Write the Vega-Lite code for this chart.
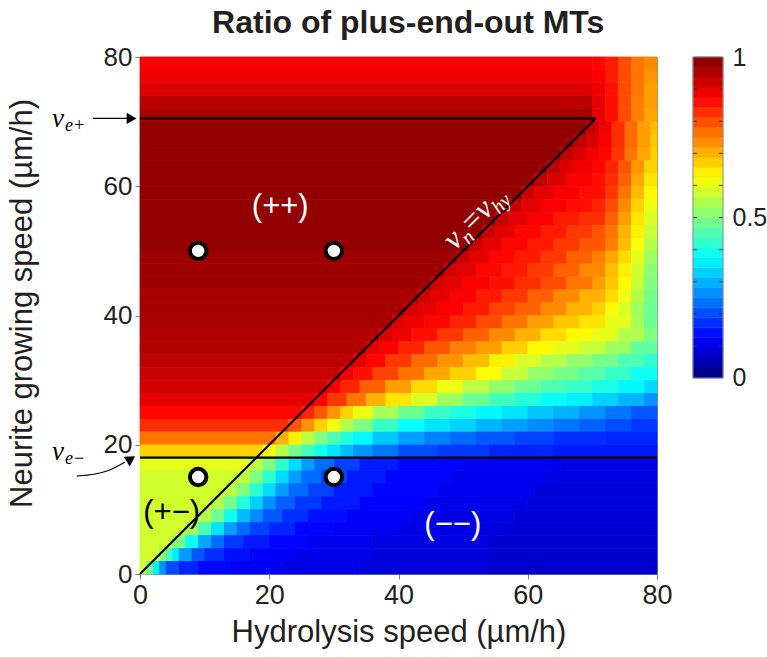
{
"$schema":"https://vega.github.io/schema/vega-lite/v6.json",
"width":517,"height":517,
"autosize":{"type":"none"},
"padding":{"left":140,"top":57,"right":110,"bottom":83},
"background":"white",
"config":{"view":{"stroke":"#8c8c8c","strokeWidth":1},"font":"Liberation Sans"},
"datasets":{
"grid":[
{"x":0,"x2":70,"y":78,"y2":80,"v":0.88},{"x":70,"x2":72,"y":78,"y2":80,"v":0.87},{"x":72,"x2":74,"y":78,"y2":80,"v":0.85},{"x":74,"x2":76,"y":78,"y2":80,"v":0.8},{"x":76,"x2":78,"y":78,"y2":80,"v":0.76},{"x":78,"x2":80,"y":78,"y2":80,"v":0.74},
{"x":0,"x2":70,"y":76,"y2":78,"v":0.89},{"x":70,"x2":72,"y":76,"y2":78,"v":0.88},{"x":72,"x2":74,"y":76,"y2":78,"v":0.85},{"x":74,"x2":76,"y":76,"y2":78,"v":0.8},{"x":76,"x2":78,"y":76,"y2":78,"v":0.76},{"x":78,"x2":80,"y":76,"y2":78,"v":0.73},
{"x":0,"x2":70,"y":74,"y2":76,"v":0.91},{"x":70,"x2":72,"y":74,"y2":76,"v":0.89},{"x":72,"x2":74,"y":74,"y2":76,"v":0.86},{"x":74,"x2":76,"y":74,"y2":76,"v":0.8},{"x":76,"x2":78,"y":74,"y2":76,"v":0.76},{"x":78,"x2":80,"y":74,"y2":76,"v":0.72},
{"x":0,"x2":70,"y":72,"y2":74,"v":0.94},{"x":70,"x2":72,"y":72,"y2":74,"v":0.9},{"x":72,"x2":74,"y":72,"y2":74,"v":0.86},{"x":74,"x2":76,"y":72,"y2":74,"v":0.8},{"x":76,"x2":78,"y":72,"y2":74,"v":0.75},{"x":78,"x2":80,"y":72,"y2":74,"v":0.72},
{"x":0,"x2":70,"y":70,"y2":72,"v":0.96},{"x":70,"x2":72,"y":70,"y2":72,"v":0.9},{"x":72,"x2":74,"y":70,"y2":72,"v":0.86},{"x":74,"x2":76,"y":70,"y2":72,"v":0.8},{"x":76,"x2":78,"y":70,"y2":72,"v":0.75},{"x":78,"x2":80,"y":70,"y2":72,"v":0.71},
{"x":0,"x2":69,"y":68,"y2":70,"v":0.98},{"x":69,"x2":71,"y":68,"y2":70,"v":0.93},{"x":71,"x2":73,"y":68,"y2":70,"v":0.89},{"x":73,"x2":75,"y":68,"y2":70,"v":0.83},{"x":75,"x2":77,"y":68,"y2":70,"v":0.77},{"x":77,"x2":79,"y":68,"y2":70,"v":0.72},{"x":79,"x2":80,"y":68,"y2":70,"v":0.69},
{"x":0,"x2":67,"y":66,"y2":68,"v":0.98},{"x":67,"x2":69,"y":66,"y2":68,"v":0.94},{"x":69,"x2":71,"y":66,"y2":68,"v":0.91},{"x":71,"x2":73,"y":66,"y2":68,"v":0.88},{"x":73,"x2":75,"y":66,"y2":68,"v":0.83},{"x":75,"x2":77,"y":66,"y2":68,"v":0.77},{"x":77,"x2":79,"y":66,"y2":68,"v":0.72},{"x":79,"x2":80,"y":66,"y2":68,"v":0.68},
{"x":0,"x2":65,"y":64,"y2":66,"v":0.98},{"x":65,"x2":67,"y":64,"y2":66,"v":0.94},{"x":67,"x2":69,"y":64,"y2":66,"v":0.91},{"x":69,"x2":71,"y":64,"y2":66,"v":0.89},{"x":71,"x2":73,"y":64,"y2":66,"v":0.87},{"x":73,"x2":75,"y":64,"y2":66,"v":0.82},{"x":75,"x2":77,"y":64,"y2":66,"v":0.76},{"x":77,"x2":79,"y":64,"y2":66,"v":0.71},{"x":79,"x2":80,"y":64,"y2":66,"v":0.67},
{"x":0,"x2":63,"y":62,"y2":64,"v":0.98},{"x":63,"x2":65,"y":62,"y2":64,"v":0.94},{"x":65,"x2":67,"y":62,"y2":64,"v":0.91},{"x":67,"x2":70,"y":62,"y2":64,"v":0.89},{"x":70,"x2":72,"y":62,"y2":64,"v":0.87},{"x":72,"x2":74,"y":62,"y2":64,"v":0.84},{"x":74,"x2":76,"y":62,"y2":64,"v":0.79},{"x":76,"x2":78,"y":62,"y2":64,"v":0.73},{"x":78,"x2":80,"y":62,"y2":64,"v":0.67},
{"x":0,"x2":61,"y":60,"y2":62,"v":0.98},{"x":61,"x2":63,"y":60,"y2":62,"v":0.94},{"x":63,"x2":66,"y":60,"y2":62,"v":0.91},{"x":66,"x2":70,"y":60,"y2":62,"v":0.88},{"x":70,"x2":72,"y":60,"y2":62,"v":0.86},{"x":72,"x2":74,"y":60,"y2":62,"v":0.83},{"x":74,"x2":76,"y":60,"y2":62,"v":0.78},{"x":76,"x2":78,"y":60,"y2":62,"v":0.71},{"x":78,"x2":80,"y":60,"y2":62,"v":0.65},
{"x":0,"x2":59,"y":58,"y2":60,"v":0.98},{"x":59,"x2":61,"y":58,"y2":60,"v":0.93},{"x":61,"x2":64,"y":58,"y2":60,"v":0.9},{"x":64,"x2":68,"y":58,"y2":60,"v":0.88},{"x":68,"x2":72,"y":58,"y2":60,"v":0.86},{"x":72,"x2":74,"y":58,"y2":60,"v":0.82},{"x":74,"x2":76,"y":58,"y2":60,"v":0.76},{"x":76,"x2":78,"y":58,"y2":60,"v":0.69},{"x":78,"x2":80,"y":58,"y2":60,"v":0.63},
{"x":0,"x2":57,"y":56,"y2":58,"v":0.98},{"x":57,"x2":59,"y":56,"y2":58,"v":0.93},{"x":59,"x2":62,"y":56,"y2":58,"v":0.9},{"x":62,"x2":66,"y":56,"y2":58,"v":0.88},{"x":66,"x2":70,"y":56,"y2":58,"v":0.86},{"x":70,"x2":72,"y":56,"y2":58,"v":0.84},{"x":72,"x2":74,"y":56,"y2":58,"v":0.8},{"x":74,"x2":76,"y":56,"y2":58,"v":0.74},{"x":76,"x2":78,"y":56,"y2":58,"v":0.67},{"x":78,"x2":80,"y":56,"y2":58,"v":0.61},
{"x":0,"x2":55,"y":54,"y2":56,"v":0.98},{"x":55,"x2":57,"y":54,"y2":56,"v":0.93},{"x":57,"x2":60,"y":54,"y2":56,"v":0.9},{"x":60,"x2":64,"y":54,"y2":56,"v":0.88},{"x":64,"x2":68,"y":54,"y2":56,"v":0.85},{"x":68,"x2":72,"y":54,"y2":56,"v":0.83},{"x":72,"x2":74,"y":54,"y2":56,"v":0.78},{"x":74,"x2":76,"y":54,"y2":56,"v":0.72},{"x":76,"x2":78,"y":54,"y2":56,"v":0.65},{"x":78,"x2":80,"y":54,"y2":56,"v":0.59},
{"x":0,"x2":53,"y":52,"y2":54,"v":0.98},{"x":53,"x2":55,"y":52,"y2":54,"v":0.93},{"x":55,"x2":58,"y":52,"y2":54,"v":0.9},{"x":58,"x2":62,"y":52,"y2":54,"v":0.87},{"x":62,"x2":66,"y":52,"y2":54,"v":0.85},{"x":66,"x2":70,"y":52,"y2":54,"v":0.82},{"x":70,"x2":72,"y":52,"y2":54,"v":0.79},{"x":72,"x2":74,"y":52,"y2":54,"v":0.76},{"x":74,"x2":76,"y":52,"y2":54,"v":0.7},{"x":76,"x2":78,"y":52,"y2":54,"v":0.64},{"x":78,"x2":80,"y":52,"y2":54,"v":0.57},
{"x":0,"x2":51,"y":50,"y2":52,"v":0.98},{"x":51,"x2":53,"y":50,"y2":52,"v":0.93},{"x":53,"x2":56,"y":50,"y2":52,"v":0.9},{"x":56,"x2":60,"y":50,"y2":52,"v":0.87},{"x":60,"x2":64,"y":50,"y2":52,"v":0.85},{"x":64,"x2":68,"y":50,"y2":52,"v":0.82},{"x":68,"x2":72,"y":50,"y2":52,"v":0.79},{"x":72,"x2":74,"y":50,"y2":52,"v":0.75},{"x":74,"x2":76,"y":50,"y2":52,"v":0.69},{"x":76,"x2":78,"y":50,"y2":52,"v":0.62},{"x":78,"x2":80,"y":50,"y2":52,"v":0.55},
{"x":0,"x2":49,"y":48,"y2":50,"v":0.97},{"x":49,"x2":51,"y":48,"y2":50,"v":0.93},{"x":51,"x2":54,"y":48,"y2":50,"v":0.9},{"x":54,"x2":58,"y":48,"y2":50,"v":0.87},{"x":58,"x2":62,"y":48,"y2":50,"v":0.85},{"x":62,"x2":66,"y":48,"y2":50,"v":0.82},{"x":66,"x2":70,"y":48,"y2":50,"v":0.78},{"x":70,"x2":72,"y":48,"y2":50,"v":0.75},{"x":72,"x2":74,"y":48,"y2":50,"v":0.71},{"x":74,"x2":76,"y":48,"y2":50,"v":0.66},{"x":76,"x2":78,"y":48,"y2":50,"v":0.6},{"x":78,"x2":80,"y":48,"y2":50,"v":0.53},
{"x":0,"x2":47,"y":46,"y2":48,"v":0.97},{"x":47,"x2":49,"y":46,"y2":48,"v":0.92},{"x":49,"x2":52,"y":46,"y2":48,"v":0.9},{"x":52,"x2":56,"y":46,"y2":48,"v":0.87},{"x":56,"x2":60,"y":46,"y2":48,"v":0.85},{"x":60,"x2":64,"y":46,"y2":48,"v":0.82},{"x":64,"x2":68,"y":46,"y2":48,"v":0.78},{"x":68,"x2":72,"y":46,"y2":48,"v":0.74},{"x":72,"x2":74,"y":46,"y2":48,"v":0.69},{"x":74,"x2":76,"y":46,"y2":48,"v":0.64},{"x":76,"x2":78,"y":46,"y2":48,"v":0.58},{"x":78,"x2":80,"y":46,"y2":48,"v":0.51},
{"x":0,"x2":45,"y":44,"y2":46,"v":0.97},{"x":45,"x2":47,"y":44,"y2":46,"v":0.92},{"x":47,"x2":50,"y":44,"y2":46,"v":0.9},{"x":50,"x2":54,"y":44,"y2":46,"v":0.88},{"x":54,"x2":58,"y":44,"y2":46,"v":0.86},{"x":58,"x2":62,"y":44,"y2":46,"v":0.83},{"x":62,"x2":66,"y":44,"y2":46,"v":0.8},{"x":66,"x2":70,"y":44,"y2":46,"v":0.76},{"x":70,"x2":72,"y":44,"y2":46,"v":0.72},{"x":72,"x2":74,"y":44,"y2":46,"v":0.68},{"x":74,"x2":76,"y":44,"y2":46,"v":0.63},{"x":76,"x2":78,"y":44,"y2":46,"v":0.57},{"x":78,"x2":80,"y":44,"y2":46,"v":0.5},
{"x":0,"x2":43,"y":42,"y2":44,"v":0.96},{"x":43,"x2":45,"y":42,"y2":44,"v":0.92},{"x":45,"x2":48,"y":42,"y2":44,"v":0.9},{"x":48,"x2":52,"y":42,"y2":44,"v":0.88},{"x":52,"x2":56,"y":42,"y2":44,"v":0.85},{"x":56,"x2":60,"y":42,"y2":44,"v":0.82},{"x":60,"x2":64,"y":42,"y2":44,"v":0.78},{"x":64,"x2":68,"y":42,"y2":44,"v":0.74},{"x":68,"x2":72,"y":42,"y2":44,"v":0.7},{"x":72,"x2":74,"y":42,"y2":44,"v":0.66},{"x":74,"x2":76,"y":42,"y2":44,"v":0.61},{"x":76,"x2":78,"y":42,"y2":44,"v":0.55},{"x":78,"x2":80,"y":42,"y2":44,"v":0.49},
{"x":0,"x2":41,"y":40,"y2":42,"v":0.96},{"x":41,"x2":43,"y":40,"y2":42,"v":0.92},{"x":43,"x2":46,"y":40,"y2":42,"v":0.9},{"x":46,"x2":50,"y":40,"y2":42,"v":0.88},{"x":50,"x2":54,"y":40,"y2":42,"v":0.85},{"x":54,"x2":58,"y":40,"y2":42,"v":0.81},{"x":58,"x2":62,"y":40,"y2":42,"v":0.78},{"x":62,"x2":66,"y":40,"y2":42,"v":0.74},{"x":66,"x2":70,"y":40,"y2":42,"v":0.7},{"x":70,"x2":72,"y":40,"y2":42,"v":0.67},{"x":72,"x2":74,"y":40,"y2":42,"v":0.63},{"x":74,"x2":76,"y":40,"y2":42,"v":0.59},{"x":76,"x2":78,"y":40,"y2":42,"v":0.53},{"x":78,"x2":80,"y":40,"y2":42,"v":0.48},
{"x":0,"x2":39,"y":38,"y2":40,"v":0.96},{"x":39,"x2":41,"y":38,"y2":40,"v":0.91},{"x":41,"x2":44,"y":38,"y2":40,"v":0.89},{"x":44,"x2":48,"y":38,"y2":40,"v":0.87},{"x":48,"x2":52,"y":38,"y2":40,"v":0.84},{"x":52,"x2":56,"y":38,"y2":40,"v":0.8},{"x":56,"x2":60,"y":38,"y2":40,"v":0.76},{"x":60,"x2":64,"y":38,"y2":40,"v":0.72},{"x":64,"x2":68,"y":38,"y2":40,"v":0.68},{"x":68,"x2":72,"y":38,"y2":40,"v":0.65},{"x":72,"x2":76,"y":38,"y2":40,"v":0.6},{"x":76,"x2":78,"y":38,"y2":40,"v":0.54},{"x":78,"x2":80,"y":38,"y2":40,"v":0.48},
{"x":0,"x2":37,"y":36,"y2":38,"v":0.95},{"x":37,"x2":39,"y":36,"y2":38,"v":0.91},{"x":39,"x2":42,"y":36,"y2":38,"v":0.89},{"x":42,"x2":46,"y":36,"y2":38,"v":0.86},{"x":46,"x2":50,"y":36,"y2":38,"v":0.82},{"x":50,"x2":54,"y":36,"y2":38,"v":0.78},{"x":54,"x2":58,"y":36,"y2":38,"v":0.74},{"x":58,"x2":62,"y":36,"y2":38,"v":0.7},{"x":62,"x2":66,"y":36,"y2":38,"v":0.66},{"x":66,"x2":70,"y":36,"y2":38,"v":0.63},{"x":70,"x2":74,"y":36,"y2":38,"v":0.6},{"x":74,"x2":78,"y":36,"y2":38,"v":0.55},{"x":78,"x2":80,"y":36,"y2":38,"v":0.5},
{"x":0,"x2":35,"y":34,"y2":36,"v":0.95},{"x":35,"x2":37,"y":34,"y2":36,"v":0.9},{"x":37,"x2":40,"y":34,"y2":36,"v":0.88},{"x":40,"x2":44,"y":34,"y2":36,"v":0.84},{"x":44,"x2":48,"y":34,"y2":36,"v":0.79},{"x":48,"x2":52,"y":34,"y2":36,"v":0.75},{"x":52,"x2":56,"y":34,"y2":36,"v":0.72},{"x":56,"x2":60,"y":34,"y2":36,"v":0.67},{"x":60,"x2":64,"y":34,"y2":36,"v":0.63},{"x":64,"x2":68,"y":34,"y2":36,"v":0.6},{"x":68,"x2":72,"y":34,"y2":36,"v":0.57},{"x":72,"x2":76,"y":34,"y2":36,"v":0.53},{"x":76,"x2":80,"y":34,"y2":36,"v":0.47},
{"x":0,"x2":33,"y":32,"y2":34,"v":0.94},{"x":33,"x2":35,"y":32,"y2":34,"v":0.9},{"x":35,"x2":38,"y":32,"y2":34,"v":0.87},{"x":38,"x2":42,"y":32,"y2":34,"v":0.82},{"x":42,"x2":46,"y":32,"y2":34,"v":0.77},{"x":46,"x2":50,"y":32,"y2":34,"v":0.73},{"x":50,"x2":54,"y":32,"y2":34,"v":0.69},{"x":54,"x2":58,"y":32,"y2":34,"v":0.64},{"x":58,"x2":62,"y":32,"y2":34,"v":0.59},{"x":62,"x2":66,"y":32,"y2":34,"v":0.55},{"x":66,"x2":70,"y":32,"y2":34,"v":0.52},{"x":70,"x2":74,"y":32,"y2":34,"v":0.49},{"x":74,"x2":78,"y":32,"y2":34,"v":0.45},{"x":78,"x2":80,"y":32,"y2":34,"v":0.42},
{"x":0,"x2":31,"y":30,"y2":32,"v":0.93},{"x":31,"x2":33,"y":30,"y2":32,"v":0.89},{"x":33,"x2":36,"y":30,"y2":32,"v":0.86},{"x":36,"x2":40,"y":30,"y2":32,"v":0.81},{"x":40,"x2":44,"y":30,"y2":32,"v":0.76},{"x":44,"x2":48,"y":30,"y2":32,"v":0.71},{"x":48,"x2":52,"y":30,"y2":32,"v":0.67},{"x":52,"x2":56,"y":30,"y2":32,"v":0.62},{"x":56,"x2":60,"y":30,"y2":32,"v":0.57},{"x":60,"x2":64,"y":30,"y2":32,"v":0.52},{"x":64,"x2":68,"y":30,"y2":32,"v":0.49},{"x":68,"x2":72,"y":30,"y2":32,"v":0.46},{"x":72,"x2":76,"y":30,"y2":32,"v":0.43},{"x":76,"x2":80,"y":30,"y2":32,"v":0.39},
{"x":0,"x2":29,"y":28,"y2":30,"v":0.92},{"x":29,"x2":31,"y":28,"y2":30,"v":0.88},{"x":31,"x2":34,"y":28,"y2":30,"v":0.84},{"x":34,"x2":38,"y":28,"y2":30,"v":0.78},{"x":38,"x2":42,"y":28,"y2":30,"v":0.72},{"x":42,"x2":46,"y":28,"y2":30,"v":0.66},{"x":46,"x2":50,"y":28,"y2":30,"v":0.61},{"x":50,"x2":54,"y":28,"y2":30,"v":0.56},{"x":54,"x2":58,"y":28,"y2":30,"v":0.52},{"x":58,"x2":62,"y":28,"y2":30,"v":0.48},{"x":62,"x2":66,"y":28,"y2":30,"v":0.45},{"x":66,"x2":70,"y":28,"y2":30,"v":0.43},{"x":70,"x2":74,"y":28,"y2":30,"v":0.4},{"x":74,"x2":78,"y":28,"y2":30,"v":0.37},{"x":78,"x2":80,"y":28,"y2":30,"v":0.34},
{"x":0,"x2":27,"y":26,"y2":28,"v":0.9},{"x":27,"x2":29,"y":26,"y2":28,"v":0.87},{"x":29,"x2":32,"y":26,"y2":28,"v":0.82},{"x":32,"x2":35,"y":26,"y2":28,"v":0.76},{"x":35,"x2":38,"y":26,"y2":28,"v":0.7},{"x":38,"x2":42,"y":26,"y2":28,"v":0.65},{"x":42,"x2":46,"y":26,"y2":28,"v":0.59},{"x":46,"x2":50,"y":26,"y2":28,"v":0.53},{"x":50,"x2":54,"y":26,"y2":28,"v":0.48},{"x":54,"x2":58,"y":26,"y2":28,"v":0.44},{"x":58,"x2":62,"y":26,"y2":28,"v":0.41},{"x":62,"x2":66,"y":26,"y2":28,"v":0.38},{"x":66,"x2":70,"y":26,"y2":28,"v":0.36},{"x":70,"x2":74,"y":26,"y2":28,"v":0.33},{"x":74,"x2":78,"y":26,"y2":28,"v":0.3},{"x":78,"x2":80,"y":26,"y2":28,"v":0.27},
{"x":0,"x2":25,"y":24,"y2":26,"v":0.87},{"x":25,"x2":27,"y":24,"y2":26,"v":0.84},{"x":27,"x2":29,"y":24,"y2":26,"v":0.79},{"x":29,"x2":31,"y":24,"y2":26,"v":0.73},{"x":31,"x2":33,"y":24,"y2":26,"v":0.67},{"x":33,"x2":36,"y":24,"y2":26,"v":0.61},{"x":36,"x2":40,"y":24,"y2":26,"v":0.54},{"x":40,"x2":44,"y":24,"y2":26,"v":0.48},{"x":44,"x2":48,"y":24,"y2":26,"v":0.43},{"x":48,"x2":52,"y":24,"y2":26,"v":0.4},{"x":52,"x2":56,"y":24,"y2":26,"v":0.37},{"x":56,"x2":60,"y":24,"y2":26,"v":0.35},{"x":60,"x2":64,"y":24,"y2":26,"v":0.32},{"x":64,"x2":68,"y":24,"y2":26,"v":0.3},{"x":68,"x2":72,"y":24,"y2":26,"v":0.27},{"x":72,"x2":76,"y":24,"y2":26,"v":0.24},{"x":76,"x2":80,"y":24,"y2":26,"v":0.21},
{"x":0,"x2":23,"y":22,"y2":24,"v":0.83},{"x":23,"x2":25,"y":22,"y2":24,"v":0.79},{"x":25,"x2":27,"y":22,"y2":24,"v":0.73},{"x":27,"x2":29,"y":22,"y2":24,"v":0.67},{"x":29,"x2":31,"y":22,"y2":24,"v":0.61},{"x":31,"x2":33,"y":22,"y2":24,"v":0.55},{"x":33,"x2":36,"y":22,"y2":24,"v":0.5},{"x":36,"x2":40,"y":22,"y2":24,"v":0.43},{"x":40,"x2":44,"y":22,"y2":24,"v":0.38},{"x":44,"x2":48,"y":22,"y2":24,"v":0.35},{"x":48,"x2":52,"y":22,"y2":24,"v":0.33},{"x":52,"x2":56,"y":22,"y2":24,"v":0.3},{"x":56,"x2":60,"y":22,"y2":24,"v":0.28},{"x":60,"x2":64,"y":22,"y2":24,"v":0.26},{"x":64,"x2":68,"y":22,"y2":24,"v":0.24},{"x":68,"x2":72,"y":22,"y2":24,"v":0.22},{"x":72,"x2":76,"y":22,"y2":24,"v":0.2},{"x":76,"x2":80,"y":22,"y2":24,"v":0.18},
{"x":0,"x2":21,"y":20,"y2":22,"v":0.76},{"x":21,"x2":23,"y":20,"y2":22,"v":0.7},{"x":23,"x2":25,"y":20,"y2":22,"v":0.64},{"x":25,"x2":27,"y":20,"y2":22,"v":0.56},{"x":27,"x2":29,"y":20,"y2":22,"v":0.5},{"x":29,"x2":31,"y":20,"y2":22,"v":0.45},{"x":31,"x2":33,"y":20,"y2":22,"v":0.41},{"x":33,"x2":36,"y":20,"y2":22,"v":0.37},{"x":36,"x2":40,"y":20,"y2":22,"v":0.32},{"x":40,"x2":44,"y":20,"y2":22,"v":0.28},{"x":44,"x2":48,"y":20,"y2":22,"v":0.25},{"x":48,"x2":52,"y":20,"y2":22,"v":0.23},{"x":52,"x2":58,"y":20,"y2":22,"v":0.21},{"x":58,"x2":64,"y":20,"y2":22,"v":0.19},{"x":64,"x2":72,"y":20,"y2":22,"v":0.17},{"x":72,"x2":80,"y":20,"y2":22,"v":0.16},
{"x":0,"x2":19,"y":18,"y2":20,"v":0.67},{"x":19,"x2":21,"y":18,"y2":20,"v":0.62},{"x":21,"x2":23,"y":18,"y2":20,"v":0.55},{"x":23,"x2":25,"y":18,"y2":20,"v":0.49},{"x":25,"x2":27,"y":18,"y2":20,"v":0.44},{"x":27,"x2":29,"y":18,"y2":20,"v":0.39},{"x":29,"x2":31,"y":18,"y2":20,"v":0.35},{"x":31,"x2":33,"y":18,"y2":20,"v":0.31},{"x":33,"x2":36,"y":18,"y2":20,"v":0.27},{"x":36,"x2":40,"y":18,"y2":20,"v":0.24},{"x":40,"x2":46,"y":18,"y2":20,"v":0.2},{"x":46,"x2":54,"y":18,"y2":20,"v":0.18},{"x":54,"x2":64,"y":18,"y2":20,"v":0.16},{"x":64,"x2":80,"y":18,"y2":20,"v":0.15},
{"x":0,"x2":17,"y":16,"y2":18,"v":0.6},{"x":17,"x2":19,"y":16,"y2":18,"v":0.56},{"x":19,"x2":21,"y":16,"y2":18,"v":0.5},{"x":21,"x2":23,"y":16,"y2":18,"v":0.42},{"x":23,"x2":25,"y":16,"y2":18,"v":0.34},{"x":25,"x2":27,"y":16,"y2":18,"v":0.28},{"x":27,"x2":30,"y":16,"y2":18,"v":0.23},{"x":30,"x2":34,"y":16,"y2":18,"v":0.19},{"x":34,"x2":40,"y":16,"y2":18,"v":0.15},{"x":40,"x2":50,"y":16,"y2":18,"v":0.13},{"x":50,"x2":65,"y":16,"y2":18,"v":0.11},{"x":65,"x2":80,"y":16,"y2":18,"v":0.095},
{"x":0,"x2":15,"y":14,"y2":16,"v":0.58},{"x":15,"x2":17,"y":14,"y2":16,"v":0.56},{"x":17,"x2":19,"y":14,"y2":16,"v":0.5},{"x":19,"x2":21,"y":14,"y2":16,"v":0.42},{"x":21,"x2":23,"y":14,"y2":16,"v":0.34},{"x":23,"x2":25,"y":14,"y2":16,"v":0.28},{"x":25,"x2":28,"y":14,"y2":16,"v":0.23},{"x":28,"x2":32,"y":14,"y2":16,"v":0.19},{"x":32,"x2":38,"y":14,"y2":16,"v":0.15},{"x":38,"x2":48,"y":14,"y2":16,"v":0.13},{"x":48,"x2":63,"y":14,"y2":16,"v":0.11},{"x":63,"x2":80,"y":14,"y2":16,"v":0.095},
{"x":0,"x2":13,"y":12,"y2":14,"v":0.58},{"x":13,"x2":15,"y":12,"y2":14,"v":0.56},{"x":15,"x2":17,"y":12,"y2":14,"v":0.5},{"x":17,"x2":19,"y":12,"y2":14,"v":0.42},{"x":19,"x2":21,"y":12,"y2":14,"v":0.34},{"x":21,"x2":23,"y":12,"y2":14,"v":0.28},{"x":23,"x2":26,"y":12,"y2":14,"v":0.23},{"x":26,"x2":30,"y":12,"y2":14,"v":0.19},{"x":30,"x2":36,"y":12,"y2":14,"v":0.15},{"x":36,"x2":46,"y":12,"y2":14,"v":0.13},{"x":46,"x2":61,"y":12,"y2":14,"v":0.11},{"x":61,"x2":80,"y":12,"y2":14,"v":0.09},
{"x":0,"x2":11,"y":10,"y2":12,"v":0.58},{"x":11,"x2":13,"y":10,"y2":12,"v":0.55},{"x":13,"x2":15,"y":10,"y2":12,"v":0.49},{"x":15,"x2":17,"y":10,"y2":12,"v":0.41},{"x":17,"x2":19,"y":10,"y2":12,"v":0.33},{"x":19,"x2":21,"y":10,"y2":12,"v":0.27},{"x":21,"x2":24,"y":10,"y2":12,"v":0.22},{"x":24,"x2":28,"y":10,"y2":12,"v":0.18},{"x":28,"x2":34,"y":10,"y2":12,"v":0.15},{"x":34,"x2":44,"y":10,"y2":12,"v":0.125},{"x":44,"x2":60,"y":10,"y2":12,"v":0.105},{"x":60,"x2":80,"y":10,"y2":12,"v":0.09},
{"x":0,"x2":9,"y":8,"y2":10,"v":0.58},{"x":9,"x2":11,"y":8,"y2":10,"v":0.55},{"x":11,"x2":13,"y":8,"y2":10,"v":0.48},{"x":13,"x2":15,"y":8,"y2":10,"v":0.39},{"x":15,"x2":17,"y":8,"y2":10,"v":0.31},{"x":17,"x2":19,"y":8,"y2":10,"v":0.26},{"x":19,"x2":22,"y":8,"y2":10,"v":0.21},{"x":22,"x2":26,"y":8,"y2":10,"v":0.17},{"x":26,"x2":32,"y":8,"y2":10,"v":0.14},{"x":32,"x2":42,"y":8,"y2":10,"v":0.12},{"x":42,"x2":58,"y":8,"y2":10,"v":0.1},{"x":58,"x2":80,"y":8,"y2":10,"v":0.085},
{"x":0,"x2":7,"y":6,"y2":8,"v":0.58},{"x":7,"x2":9,"y":6,"y2":8,"v":0.54},{"x":9,"x2":11,"y":6,"y2":8,"v":0.45},{"x":11,"x2":13,"y":6,"y2":8,"v":0.35},{"x":13,"x2":15,"y":6,"y2":8,"v":0.28},{"x":15,"x2":17,"y":6,"y2":8,"v":0.23},{"x":17,"x2":20,"y":6,"y2":8,"v":0.19},{"x":20,"x2":24,"y":6,"y2":8,"v":0.16},{"x":24,"x2":30,"y":6,"y2":8,"v":0.13},{"x":30,"x2":40,"y":6,"y2":8,"v":0.115},{"x":40,"x2":56,"y":6,"y2":8,"v":0.1},{"x":56,"x2":80,"y":6,"y2":8,"v":0.085},
{"x":0,"x2":5,"y":4,"y2":6,"v":0.58},{"x":5,"x2":7,"y":4,"y2":6,"v":0.5},{"x":7,"x2":9,"y":4,"y2":6,"v":0.38},{"x":9,"x2":11,"y":4,"y2":6,"v":0.29},{"x":11,"x2":13,"y":4,"y2":6,"v":0.23},{"x":13,"x2":16,"y":4,"y2":6,"v":0.18},{"x":16,"x2":20,"y":4,"y2":6,"v":0.15},{"x":20,"x2":26,"y":4,"y2":6,"v":0.13},{"x":26,"x2":36,"y":4,"y2":6,"v":0.11},{"x":36,"x2":54,"y":4,"y2":6,"v":0.095},{"x":54,"x2":80,"y":4,"y2":6,"v":0.08},
{"x":0,"x2":3,"y":2,"y2":4,"v":0.58},{"x":3,"x2":4,"y":2,"y2":4,"v":0.52},{"x":4,"x2":5,"y":2,"y2":4,"v":0.44},{"x":5,"x2":6,"y":2,"y2":4,"v":0.36},{"x":6,"x2":8,"y":2,"y2":4,"v":0.28},{"x":8,"x2":10,"y":2,"y2":4,"v":0.21},{"x":10,"x2":13,"y":2,"y2":4,"v":0.17},{"x":13,"x2":17,"y":2,"y2":4,"v":0.14},{"x":17,"x2":24,"y":2,"y2":4,"v":0.12},{"x":24,"x2":36,"y":2,"y2":4,"v":0.105},{"x":36,"x2":54,"y":2,"y2":4,"v":0.09},{"x":54,"x2":80,"y":2,"y2":4,"v":0.08},
{"x":0,"x2":1,"y":0,"y2":2,"v":0.58},{"x":1,"x2":2,"y":0,"y2":2,"v":0.48},{"x":2,"x2":3,"y":0,"y2":2,"v":0.36},{"x":3,"x2":4,"y":0,"y2":2,"v":0.27},{"x":4,"x2":6,"y":0,"y2":2,"v":0.2},{"x":6,"x2":9,"y":0,"y2":2,"v":0.16},{"x":9,"x2":14,"y":0,"y2":2,"v":0.13},{"x":14,"x2":22,"y":0,"y2":2,"v":0.115},{"x":22,"x2":34,"y":0,"y2":2,"v":0.1},{"x":34,"x2":54,"y":0,"y2":2,"v":0.09},{"x":54,"x2":80,"y":0,"y2":2,"v":0.075}
],
"colorbar":[
{"lo":0,"hi":0.03125,"c":0.015625},{"lo":0.03125,"hi":0.0625,"c":0.046875},{"lo":0.0625,"hi":0.09375,"c":0.078125},{"lo":0.09375,"hi":0.125,"c":0.109375},
{"lo":0.125,"hi":0.15625,"c":0.140625},{"lo":0.15625,"hi":0.1875,"c":0.171875},{"lo":0.1875,"hi":0.21875,"c":0.203125},{"lo":0.21875,"hi":0.25,"c":0.234375},
{"lo":0.25,"hi":0.28125,"c":0.265625},{"lo":0.28125,"hi":0.3125,"c":0.296875},{"lo":0.3125,"hi":0.34375,"c":0.328125},{"lo":0.34375,"hi":0.375,"c":0.359375},
{"lo":0.375,"hi":0.40625,"c":0.390625},{"lo":0.40625,"hi":0.4375,"c":0.421875},{"lo":0.4375,"hi":0.46875,"c":0.453125},{"lo":0.46875,"hi":0.5,"c":0.484375},
{"lo":0.5,"hi":0.53125,"c":0.515625},{"lo":0.53125,"hi":0.5625,"c":0.546875},{"lo":0.5625,"hi":0.59375,"c":0.578125},{"lo":0.59375,"hi":0.625,"c":0.609375},
{"lo":0.625,"hi":0.65625,"c":0.640625},{"lo":0.65625,"hi":0.6875,"c":0.671875},{"lo":0.6875,"hi":0.71875,"c":0.703125},{"lo":0.71875,"hi":0.75,"c":0.734375},
{"lo":0.75,"hi":0.78125,"c":0.765625},{"lo":0.78125,"hi":0.8125,"c":0.796875},{"lo":0.8125,"hi":0.84375,"c":0.828125},{"lo":0.84375,"hi":0.875,"c":0.859375},
{"lo":0.875,"hi":0.90625,"c":0.890625},{"lo":0.90625,"hi":0.9375,"c":0.921875},{"lo":0.9375,"hi":0.96875,"c":0.953125},{"lo":0.96875,"hi":1,"c":0.984375}
],
"barTicks":[{"v":0.1},{"v":0.2},{"v":0.3},{"v":0.4},{"v":0.5},{"v":0.6},{"v":0.7},{"v":0.8},{"v":0.9}],
"lines":[{"x":0,"y":70.5,"x2":70.5,"y2":70.5},{"x":0,"y":0,"x2":70.5,"y2":70.5},{"x":0,"y":18,"x2":80,"y2":18}],
"shaft":[{"x":-7.3,"y":70.5,"x2":-2,"y2":70.5}],
"curve":[{"x":-9.75,"y":15.16},{"x":-6.96,"y":15.47},{"x":-4.33,"y":16.25},{"x":-2.32,"y":17.33}],
"headPlus":[{"x":-1.3,"y":70.5}],
"headMinus":[{"x":-1.4,"y":17.8}],
"circles":[{"x":9,"y":50},{"x":30,"y":50},{"x":9,"y":15},{"x":30,"y":15}],
"title":[{"x":41.5,"y":83.7,"t":"Ratio of plus-end-out MTs"}],
"whiteLabels":[{"x":21.7,"y":56.8,"t":"(++)"},{"x":48.4,"y":7.6,"t":"(−−)"}],
"blackLabels":[{"x":4.9,"y":9.5,"t":"(+−)"}],
"formula":[{"x":48.7,"y":50.0}],
"ve":[{"x":-13.6,"y":69.1,"s":"e+"},{"x":-13.6,"y":17.6,"s":"e−"}]
},
"resolve":{"scale":{"x":"independent","y":"independent"}},
"layer":[
{"layer":[
{"data":{"name":"grid"},
 "mark":{"type":"rect","filled":false,"strokeWidth":0.8},
 "encoding":{
  "x":{"field":"x","type":"quantitative","scale":{"domain":[0,80],"nice":false,"zero":false}},
  "x2":{"field":"x2"},
  "y":{"field":"y","type":"quantitative","scale":{"domain":[0,80],"nice":false,"zero":false}},
  "y2":{"field":"y2"},
  "stroke":{"field":"v","type":"quantitative",
   "scale":{"domain":[0,0.125,0.375,0.625,0.875,1],"range":["#00007f","#0000ff","#00ffff","#ffff00","#ff0000","#7f0000"],"interpolate":"rgb"},
   "legend":null}
 }},
{"data":{"name":"grid"},
 "mark":{"type":"rect","strokeWidth":0},
 "encoding":{
  "x":{"field":"x","type":"quantitative","scale":{"domain":[0,80],"nice":false,"zero":false},
   "axis":{"title":"Hydrolysis speed (µm/h)","values":[0,20,40,60,80],"labelFlush":false,"grid":false,"domain":false,"tickSize":5,"tickColor":"#808080","labelFontSize":27,"labelColor":"#231f20","labelPadding":3,"titleFontSize":31,"titleFontWeight":"normal","titleColor":"#231f20","titleY":58,"titleBaseline":"middle"}},
  "x2":{"field":"x2"},
  "y":{"field":"y","type":"quantitative","scale":{"domain":[0,80],"nice":false,"zero":false},
   "axis":{"title":"Neurite growing speed (µm/h)","values":[0,20,40,60,80],"labelFlush":false,"grid":false,"domain":false,"tickSize":5,"tickColor":"#808080","labelFontSize":26,"labelColor":"#231f20","labelPadding":3,"titleFontSize":31,"titleFontWeight":"normal","titleColor":"#231f20","titleX":-118,"titleY":246,"titleAngle":-90,"titleBaseline":"middle","titleAlign":"center"}},
  "y2":{"field":"y2"},
  "fill":{"field":"v","type":"quantitative",
   "scale":{"domain":[0,0.125,0.375,0.625,0.875,1],"range":["#00007f","#0000ff","#00ffff","#ffff00","#ff0000","#7f0000"],"interpolate":"rgb"},
   "legend":null}
 }},
{"data":{"name":"lines"},"mark":{"type":"rule","color":"black","strokeWidth":2.2},
 "encoding":{"x":{"field":"x","type":"quantitative"},"y":{"field":"y","type":"quantitative"},"x2":{"field":"x2"},"y2":{"field":"y2"}}},
{"data":{"name":"shaft"},"mark":{"type":"rule","color":"black","strokeWidth":1.2},
 "encoding":{"x":{"field":"x","type":"quantitative"},"y":{"field":"y","type":"quantitative"},"x2":{"field":"x2"},"y2":{"field":"y2"}}},
{"data":{"name":"curve"},"mark":{"type":"line","color":"black","strokeWidth":1.2,"interpolate":"monotone"},
 "encoding":{"x":{"field":"x","type":"quantitative"},"y":{"field":"y","type":"quantitative"}}},
{"data":{"name":"headPlus"},"mark":{"type":"point","shape":"triangle-right","filled":true,"color":"black","size":130,"opacity":1},
 "encoding":{"x":{"field":"x","type":"quantitative"},"y":{"field":"y","type":"quantitative"}}},
{"data":{"name":"headMinus"},"mark":{"type":"point","shape":"triangle-right","filled":true,"color":"black","size":130,"angle":-32,"opacity":1},
 "encoding":{"x":{"field":"x","type":"quantitative"},"y":{"field":"y","type":"quantitative"}}},
{"data":{"name":"circles"},"mark":{"type":"point","shape":"circle","filled":true,"fill":"white","stroke":"black","strokeWidth":4,"size":270,"opacity":1},
 "encoding":{"x":{"field":"x","type":"quantitative"},"y":{"field":"y","type":"quantitative"}}},
{"data":{"name":"title"},"mark":{"type":"text","color":"#231f20","fontSize":32,"fontWeight":"bold","font":"Liberation Sans","align":"center","baseline":"alphabetic"},
 "encoding":{"x":{"field":"x","type":"quantitative"},"y":{"field":"y","type":"quantitative"},"text":{"field":"t"}}},
{"data":{"name":"whiteLabels"},"mark":{"type":"text","color":"white","fontSize":31,"font":"Liberation Sans","align":"center","baseline":"middle"},
 "encoding":{"x":{"field":"x","type":"quantitative"},"y":{"field":"y","type":"quantitative"},"text":{"field":"t"}}},
{"data":{"name":"blackLabels"},"mark":{"type":"text","color":"black","fontSize":31,"font":"Liberation Sans","align":"center","baseline":"middle"},
 "encoding":{"x":{"field":"x","type":"quantitative"},"y":{"field":"y","type":"quantitative"},"text":{"field":"t"}}},
{"data":{"name":"formula"},"mark":{"type":"text","text":"v","color":"white","fontSize":31,"font":"Liberation Serif","fontStyle":"italic","align":"left","baseline":"alphabetic","angle":-45,"dx":0},
 "encoding":{"x":{"field":"x","type":"quantitative"},"y":{"field":"y","type":"quantitative"}}},
{"data":{"name":"formula"},"mark":{"type":"text","text":"n","color":"white","fontSize":20,"font":"Liberation Serif","fontStyle":"italic","align":"left","baseline":"alphabetic","angle":-45,"dx":14,"dy":6},
 "encoding":{"x":{"field":"x","type":"quantitative"},"y":{"field":"y","type":"quantitative"}}},
{"data":{"name":"formula"},"mark":{"type":"text","text":"=","color":"white","fontSize":31,"font":"Liberation Serif","align":"left","baseline":"alphabetic","angle":-45,"dx":25},
 "encoding":{"x":{"field":"x","type":"quantitative"},"y":{"field":"y","type":"quantitative"}}},
{"data":{"name":"formula"},"mark":{"type":"text","text":"v","color":"white","fontSize":31,"font":"Liberation Serif","fontStyle":"italic","align":"left","baseline":"alphabetic","angle":-45,"dx":43},
 "encoding":{"x":{"field":"x","type":"quantitative"},"y":{"field":"y","type":"quantitative"}}},
{"data":{"name":"formula"},"mark":{"type":"text","text":"hy","color":"white","fontSize":20,"font":"Liberation Serif","fontStyle":"italic","align":"left","baseline":"alphabetic","angle":-45,"dx":57,"dy":6},
 "encoding":{"x":{"field":"x","type":"quantitative"},"y":{"field":"y","type":"quantitative"}}},
{"data":{"name":"ve"},"mark":{"type":"text","text":"v","color":"black","fontSize":27,"font":"Liberation Serif","fontStyle":"italic","align":"left","baseline":"alphabetic"},
 "encoding":{"x":{"field":"x","type":"quantitative"},"y":{"field":"y","type":"quantitative"}}},
{"data":{"name":"ve"},"mark":{"type":"text","color":"black","fontSize":18,"font":"Liberation Serif","fontStyle":"italic","align":"left","baseline":"alphabetic","dx":13,"dy":4},
 "encoding":{"x":{"field":"x","type":"quantitative"},"y":{"field":"y","type":"quantitative"},"text":{"field":"s"}}}
]},
{"layer":[
{"data":{"name":"colorbar"},
 "mark":{"type":"rect","strokeWidth":0.6},
 "encoding":{
  "x":{"datum":0,"type":"quantitative","scale":{"domain":[-18.433,-1.2],"nice":false,"zero":false},"axis":null},
  "x2":{"datum":1},
  "y":{"field":"lo","type":"quantitative","scale":{"domain":[-0.6106,1],"nice":false,"zero":false},
   "axis":{"orient":"right","offset":70,"values":[0,0.5,1],"format":"~g","title":null,"domain":false,"ticks":false,"tickSize":0,"grid":false,"labelFontSize":25,"labelFont":"Liberation Sans","labelColor":"#231f20","labelPadding":5,"labelBaseline":"middle"}},
  "y2":{"field":"hi"},
  "fill":{"field":"c","type":"quantitative",
   "scale":{"domain":[0,0.125,0.375,0.625,0.875,1],"range":["#00007f","#0000ff","#00ffff","#ffff00","#ff0000","#7f0000"],"interpolate":"rgb"},
   "legend":null},
  "stroke":{"field":"c","type":"quantitative",
   "scale":{"domain":[0,0.125,0.375,0.625,0.875,1],"range":["#00007f","#0000ff","#00ffff","#ffff00","#ff0000","#7f0000"],"interpolate":"rgb"},
   "legend":null}
 }},
{"data":{"name":"barTicks"},"mark":{"type":"rule","color":"#333333","strokeWidth":1},
 "encoding":{"x":{"datum":0},"x2":{"datum":0.13},"y":{"field":"v","type":"quantitative"}}},
{"data":{"name":"barTicks"},"mark":{"type":"rule","color":"#333333","strokeWidth":1},
 "encoding":{"x":{"datum":0.87},"x2":{"datum":1},"y":{"field":"v","type":"quantitative"}}},
{"data":{"values":[{"lo":0,"hi":1}]},"mark":{"type":"rect","filled":false,"stroke":"#8c8c8c","strokeWidth":1},
 "encoding":{"x":{"datum":0},"x2":{"datum":1},"y":{"field":"lo","type":"quantitative"},"y2":{"field":"hi"}}}
]}
]
}
